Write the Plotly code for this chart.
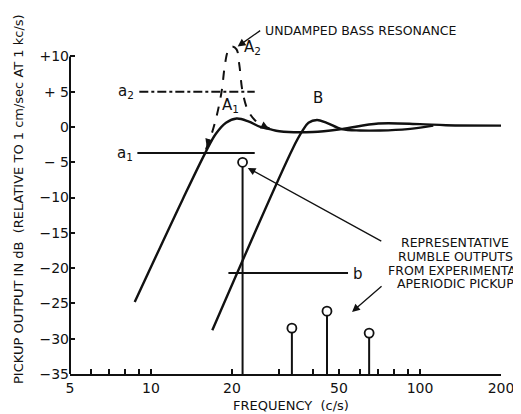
import math
import plotly.graph_objects as go

# curve A1 (damped pickup), solid
a1_freq = [8.7, 13.1, 15.9, 17.4, 19.0, 20.8, 23.0, 25.5, 27.6, 30.0, 40.0, 51.0, 70.0, 100.0, 125.0, 200.0]
a1_db = [-24.8, -10.3, -3.7, -1.0, 0.6, 1.2, 0.8, 0.0, -0.3, -0.6, -0.7, -0.3, 0.5, 0.4, 0.25, 0.2]

# curve A2 (undamped bass resonance), dashed
a2_freq = [16.0, 16.8, 17.5, 18.3, 18.8, 19.3, 20.0, 20.8, 21.3, 21.9, 22.9, 24.3, 26.0, 27.6]
a2_db = [-3.2, -1.0, 1.4, 5.0, 8.6, 10.7, 11.4, 11.0, 8.8, 5.0, 2.4, 1.0, 0.2, -0.2]

# curve B
b_freq = [16.9, 33.7, 36.5, 38.5, 41.4, 45.0, 51.3, 60.0, 71.0, 90.0, 112.0]
b_db = [-28.8, -3.0, -0.6, 0.6, 1.0, 0.6, -0.3, -0.5, -0.5, -0.3, 0.2]

# reference levels a2, a1, b
lvl_a2_freq = [9.05, 24.3]
lvl_a2_db = [5.0, 5.0]
lvl_a1_freq = [8.9, 24.3]
lvl_a1_db = [-3.7, -3.7]
lvl_b_freq = [19.4, 54.0]
lvl_b_db = [-20.7, -20.7]

# rumble outputs (stems)
rumble_freq = [21.9, 33.4, 45.1, 64.7]
rumble_db = [-5.0, -28.5, -26.1, -29.2]
base_db = -35

x_ticks = [5, 6, 7, 8, 9, 10, 20, 30, 40, 50, 60, 70, 80, 90, 100, 200]
x_labels = ["5", "", "", "", "", "10", "20", "", "", "50", "", "", "", "", "100", "200"]
y_ticks = [-35, -30, -25, -20, -15, -10, -5, 0, 5, 10]
y_labels = ["\u221235", "\u221230", "\u221225", "\u221220", "\u221215", "\u221210", "\u2212 5", "0", "+ 5", "+10"]

FONT = "DejaVu Sans, sans-serif"
INK = "#111111"

fig = go.Figure()

fig.add_trace(go.Scatter(x=a1_freq, y=a1_db, mode="lines", line=dict(color=INK, width=2.4, shape="spline")))
fig.add_trace(go.Scatter(x=a2_freq, y=a2_db, mode="lines", line=dict(color=INK, width=2, dash="dash", shape="spline")))
fig.add_trace(go.Scatter(x=b_freq, y=b_db, mode="lines", line=dict(color=INK, width=2.4, shape="spline")))

fig.add_trace(go.Scatter(x=lvl_a2_freq, y=lvl_a2_db, mode="lines", line=dict(color=INK, width=2, dash="dashdot")))
fig.add_trace(go.Scatter(x=lvl_a1_freq, y=lvl_a1_db, mode="lines", line=dict(color=INK, width=2)))
fig.add_trace(go.Scatter(x=lvl_b_freq, y=lvl_b_db, mode="lines", line=dict(color=INK, width=2)))

stem_x, stem_y = [], []
for f, v in zip(rumble_freq, rumble_db):
    stem_x += [f, f, None]
    stem_y += [base_db, v - 0.6, None]
fig.add_trace(go.Scatter(x=stem_x, y=stem_y, mode="lines", line=dict(color=INK, width=2)))
fig.add_trace(go.Scatter(x=rumble_freq, y=rumble_db, mode="markers",
                         marker=dict(symbol="circle-open", size=9, color=INK, line=dict(width=1.8))))

# left axis line only from -35 to +10
fig.add_shape(type="line", xref="paper", x0=0, x1=0, yref="y", y0=-35, y1=10,
              line=dict(color=INK, width=2))

def lx(f):
    return math.log10(f)

labels = [
    (23.9, 11.2, "A<sub>2</sub>"),
    (19.7, 3.1, "A<sub>1</sub>"),
    (41.8, 4.1, "B"),
    (8.1, 5.0, "a<sub>2</sub>"),
    (8.0, -3.7, "a<sub>1</sub>"),
    (58.9, -20.8, "b"),
]
for f, v, t in labels:
    fig.add_annotation(x=lx(f), y=v, text=t, showarrow=False,
                       font=dict(family=FONT, size=15, color=INK))

# arrows
arrow = dict(text="", showarrow=True, arrowhead=2, arrowsize=1.2, arrowwidth=1.3, arrowcolor=INK)
fig.add_annotation(x=lx(21.0), y=11.4, ax=24, ay=-17, **arrow)
fig.add_annotation(x=lx(22.9), y=-5.8, ax=135, ay=74, **arrow)
fig.add_annotation(x=lx(55.9), y=-26.2, ax=31, ay=-27, **arrow)
# small arrowheads on the dashed resonance curve
fig.add_annotation(x=lx(16.1), y=-2.8, ax=3, ay=-9, **arrow)
fig.add_annotation(x=lx(27.4), y=-0.2, ax=-8, ay=-4, **arrow)

fig.add_annotation(x=lx(26.1), y=13.7, text="UNDAMPED BASS RESONANCE", showarrow=False,
                   xanchor="left", font=dict(family=FONT, size=12.5, color=INK))

note = ["REPRESENTATIVE", "RUMBLE OUTPUTS", "FROM EXPERIMENTAL", "APERIODIC PICKUP"]
note_db = [-16.3, -18.3, -20.3, -22.2]
for t, v in zip(note, note_db):
    fig.add_annotation(x=lx(135), y=v, text=t, showarrow=False, xanchor="center",
                       font=dict(family=FONT, size=12.5, color=INK))

# axis titles
fig.add_annotation(xref="paper", yref="paper", x=-0.121, y=0.494,
                   text="PICKUP OUTPUT IN dB  (RELATIVE TO 1 cm/sec AT 1 kc/s)",
                   showarrow=False, textangle=-90, xanchor="center", yanchor="middle",
                   font=dict(family=FONT, size=13, color=INK))
fig.add_annotation(xref="paper", yref="paper", x=0.513, y=-0.09,
                   text="FREQUENCY  (c/s)", showarrow=False, xanchor="center", yanchor="middle",
                   font=dict(family=FONT, size=13, color=INK))

# the page body adds an 8px margin, so the figure is sized to fit inside the window
fig.update_layout(
    width=513, height=406,
    margin=dict(l=62, r=20, t=12, b=40),
    paper_bgcolor="white", plot_bgcolor="white",
    showlegend=False,
    font=dict(family=FONT, size=14, color=INK),
    xaxis=dict(type="log", range=[math.log10(5), math.log10(200)], automargin=False,
               tickvals=x_ticks, ticktext=x_labels, ticks="inside", ticklen=5,
               tickwidth=1.5, tickcolor=INK, showline=True, linecolor=INK, linewidth=2,
               showgrid=False, zeroline=False),
    yaxis=dict(range=[-35, 15.16], tickvals=y_ticks, ticktext=y_labels, ticks="inside",
               automargin=False, ticklen=5, tickwidth=1.5, tickcolor=INK, showline=False,
               showgrid=False, zeroline=False),
)

fig.write_html("out.html")
